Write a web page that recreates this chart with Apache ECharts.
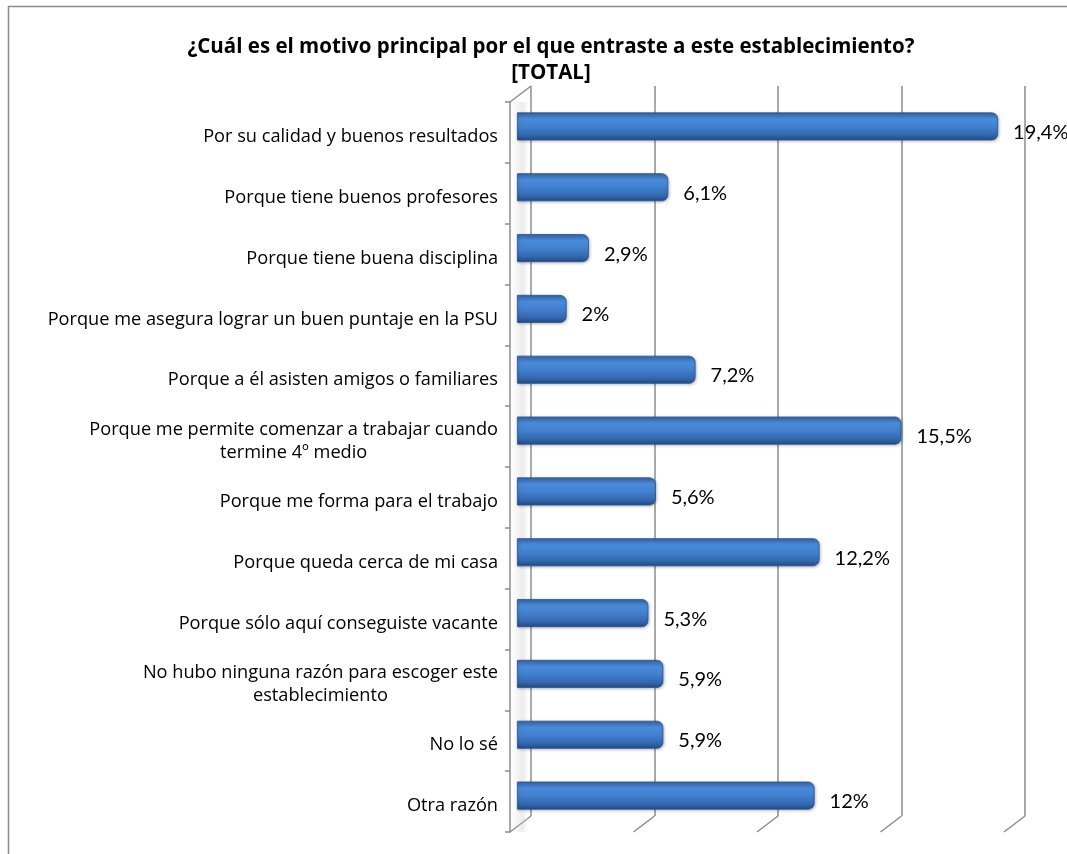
<!DOCTYPE html>
<html>
<head>
<meta charset="utf-8">
<script src="https://cdn.jsdelivr.net/npm/echarts@6/dist/echarts.min.js"></script>
<style>html,body{margin:0;padding:0;background:#fff}#c{width:1067px;height:854px}</style>
</head>
<body>
<div id="c"></div>
<script>
const categories = [
  'Por su calidad y buenos resultados',
  'Porque tiene buenos profesores',
  'Porque tiene buena disciplina',
  'Porque me asegura lograr un buen puntaje en la PSU',
  'Porque a él asisten amigos o familiares',
  'Porque me permite comenzar a trabajar cuando\ntermine 4º medio',
  'Porque me forma para el trabajo',
  'Porque queda cerca de mi casa',
  'Porque sólo aquí conseguiste vacante',
  'No hubo ninguna razón para escoger este\nestablecimiento',
  'No lo sé',
  'Otra razón'
];
const values = [19.4, 6.1, 2.9, 2, 7.2, 15.5, 5.6, 12.2, 5.3, 5.9, 5.9, 12];
const gridTicks = [0, 5, 10, 15, 20];
const titleLines = ['¿Cuál es el motivo principal por el que entraste a este establecimiento?', '[TOTAL]'];

const FONT = 'Open Sans';
const GREY = '#8c8c8c';
const DX = -21, DY = 16;

const chart = echarts.init(document.getElementById('c'), null, {renderer: 'canvas'});
chart.setOption({
  animation: false,
  backgroundColor: '#fff',
  title: {
    text: titleLines.join('\n'),
    left: 546, top: 29, textAlign: 'center',
    textStyle: {fontFamily: FONT, fontSize: 20.5, fontWeight: 'bold', color: '#000', lineHeight: 26}
  },
  graphic: [{
    type: 'polyline', silent: true,
    shape: {points: [[8.5, 900], [8.5, 6.5], [1100, 6.5]]},
    style: {stroke: GREY, lineWidth: 1.5, fill: null}
  }],
  grid: [
    {left: 517, top: 96, width: 496, height: 730},
    {left: 531, top: 86, width: 494, height: 730},
    {left: 510, top: 102, width: 494, height: 730}
  ],
  xAxis: [
    {gridIndex: 0, type: 'value', min: 0, max: 20, show: false},
    {gridIndex: 1, type: 'value', min: 0, max: 20, interval: 5,
      axisLine: {show: false}, axisTick: {show: false}, axisLabel: {show: false},
      splitLine: {show: true, lineStyle: {color: GREY, width: 1.5}}},
    {gridIndex: 2, type: 'value', min: 0, max: 20, show: false}
  ],
  yAxis: [
    {gridIndex: 0, type: 'category', data: categories, inverse: true, show: false},
    {gridIndex: 1, type: 'category', data: categories, inverse: true, show: false},
    {gridIndex: 2, type: 'category', data: categories, inverse: true,
      axisLine: {show: true, lineStyle: {color: GREY, width: 1.5}},
      axisTick: {show: true, length: 5, lineStyle: {color: GREY, width: 1.5}},
      splitLine: {show: false},
      axisLabel: {
        margin: 12, align: 'right', padding: [9, 0, 0, 0],
        formatter: v => '{c|' + v + '}',
        rich: {c: {fontFamily: FONT, fontSize: 18.2, color: '#000', lineHeight: 23, align: 'center'}}
      }}
  ],
  series: [
    {
      type: 'custom', xAxisIndex: 1, yAxisIndex: 1, silent: true, z: 1,
      data: gridTicks.map(v => [v, 0]),
      encode: {x: 0, y: 1},
      renderItem: function (params, api) {
        const cs = params.coordSys;
        const x = api.coord([api.value(0), 0])[0];
        const bottom = cs.y + cs.height;
        const st = {stroke: GREY, lineWidth: 1.5};
        const children = [{type: 'line', shape: {x1: x, y1: bottom, x2: x + DX, y2: bottom + DY}, style: st}];
        if (api.value(0) === 0) {
          children.push({type: 'line', shape: {x1: x, y1: cs.y, x2: x + DX, y2: cs.y + DY}, style: st});
          children.push({type: 'rect', shape: {x: x + DX + 1, y: cs.y + DY, width: -DX - 1, height: cs.height},
            style: {fill: {type: 'linear', x: 0, y: 0, x2: 1, y2: 0,
              colorStops: [{offset: 0, color: 'rgba(200,200,200,0.0)'}, {offset: 0.6, color: 'rgba(200,200,200,0.35)'}, {offset: 1, color: 'rgba(255,255,255,0)'}]}}});
        }
        return {type: 'group', children: children};
      }
    },
    {
      type: 'bar', xAxisIndex: 0, yAxisIndex: 0, z: 3,
      data: values,
      barWidth: 28,
      itemStyle: {
        borderRadius: [0, 6, 6, 0],
        borderColor: '#2a5694', borderWidth: 0.8,
        color: {type: 'linear', x: 0, y: 0, x2: 0, y2: 1, colorStops: [
          {offset: 0, color: '#3565a8'},
          {offset: 0.25, color: '#4a8ad8'},
          {offset: 0.5, color: '#4281d0'},
          {offset: 0.8, color: '#3468b0'},
          {offset: 1, color: '#22497f'}
        ]},
        shadowColor: 'rgba(0,0,0,0.25)', shadowBlur: 3, shadowOffsetX: 1, shadowOffsetY: 1
      },
      label: {
        show: true, position: 'right', distance: 15, offset: [0, 6],
        fontFamily: 'Lato', fontSize: 20, color: '#000',
        formatter: p => String(p.value).replace('.', ',') + '%'
      }
    }
  ]
});
</script>
</body>
</html>
